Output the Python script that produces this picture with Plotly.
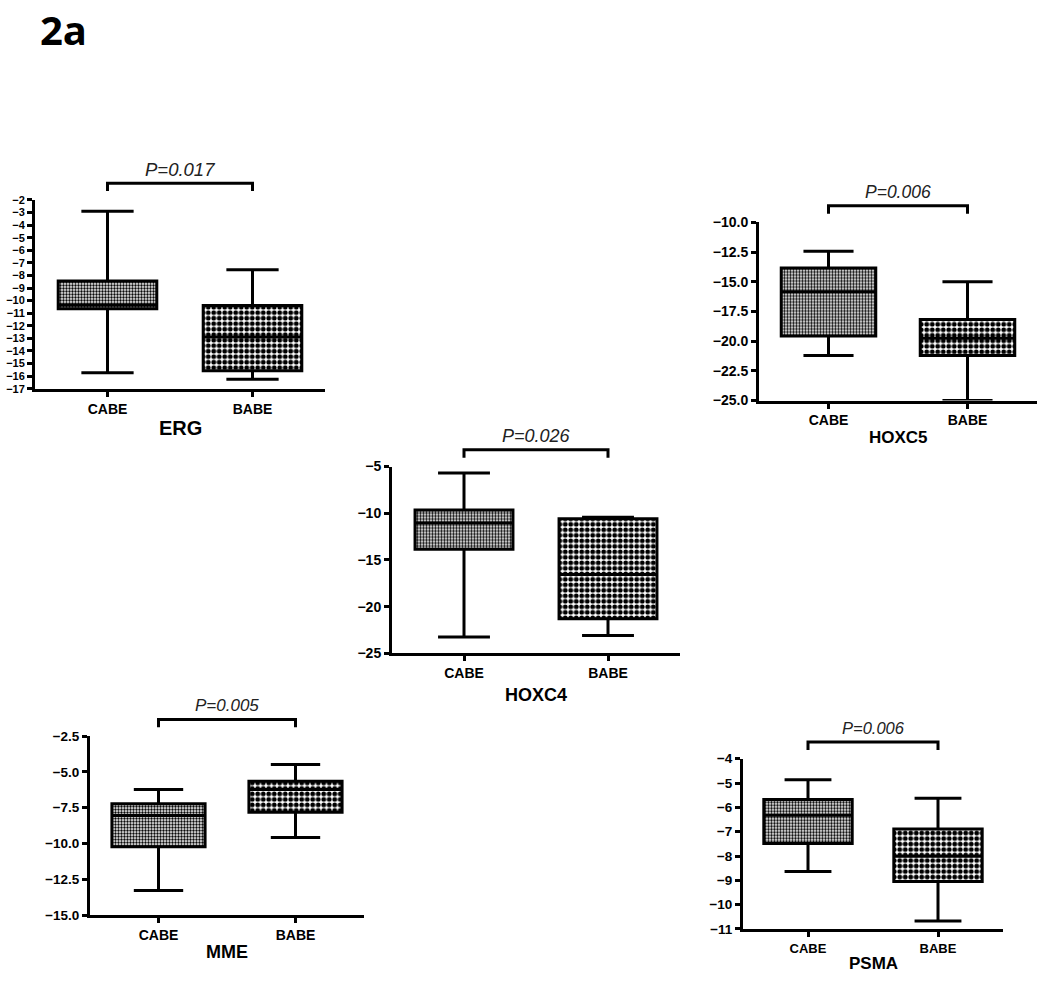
import plotly.graph_objects as go

W, H = 1050, 996
CATS = ["CABE", "BABE"]

# ---- data: lower whisker, Q1, median, Q3, upper whisker ----
erg_lower = [-15.72, -16.25]
erg_q1 = [-10.65, -15.57]
erg_median = [-10.35, -12.88]
erg_q3 = [-8.45, -10.38]
erg_upper = [-2.9, -7.55]

hoxc5_lower = [-21.2, -25.0]
hoxc5_q1 = [-19.55, -21.2]
hoxc5_median = [-15.83, -19.74]
hoxc5_q3 = [-13.84, -18.17]
hoxc5_upper = [-12.43, -15.0]

hoxc4_lower = [-23.25, -23.07]
hoxc4_q1 = [-13.85, -21.3]
hoxc4_median = [-11.05, -16.55]
hoxc4_q3 = [-9.65, -10.6]
hoxc4_upper = [-5.7, -10.42]

mme_lower = [-13.28, -9.58]
mme_q1 = [-10.22, -7.82]
mme_median = [-8.05, -6.22]
mme_q3 = [-7.23, -5.65]
mme_upper = [-6.22, -4.49]

psma_lower = [-8.64, -10.67]
psma_q1 = [-7.49, -9.05]
psma_median = [-6.32, -8.01]
psma_q3 = [-5.68, -6.89]
psma_upper = [-4.86, -5.62]

gene_names = ["ERG", "HOXC5", "HOXC4", "MME", "PSMA"]
p_labels = ["P=0.017", "P=0.006", "P=0.026", "P=0.005", "P=0.006"]

stats = [
    (erg_lower, erg_q1, erg_median, erg_q3, erg_upper),
    (hoxc5_lower, hoxc5_q1, hoxc5_median, hoxc5_q3, hoxc5_upper),
    (hoxc4_lower, hoxc4_q1, hoxc4_median, hoxc4_q3, hoxc4_upper),
    (mme_lower, mme_q1, mme_median, mme_q3, mme_upper),
    (psma_lower, psma_q1, psma_median, psma_q3, psma_upper),
]

# ---- layout of panels (pixel boxes of the plot areas) ----
# (x_left, x_right, y_top, y_bottom, yrange, dtick, tickformat,
#  ytick size, xtick size, title size, p size, title offset)
panels = [
    (35, 325, 195, 387, [-17, -2], 1, "d", 11, 14, 20, 18.5, 40),
    (759, 1037, 218, 399, [-25, -10], 2.5, ".1f", 14, 14, 17, 17.5, 38),
    (392, 680, 466, 656, [-25, -5], 5, "d", 14, 14, 18, 18, 42),
    (90, 364, 740, 922, [-15, -2.5], 2.5, ".1f", 13.5, 14, 18, 17, 37),
    (743, 1003, 763, 936, [-11, -4], 1, "d", 13.5, 13, 17, 16.5, 35),
]

FONT = "Liberation Sans, Arial, sans-serif"
BOX_W = 0.68

fig = go.Figure()
shapes = []
annotations = []


def py(px):
    return 1 - px / H


for i, (gname, (lo, q1, med, q3, up), pl, pan) in enumerate(zip(gene_names, stats, p_labels, panels)):
    n = "" if i == 0 else str(i + 1)
    xa, ya = "x" + n, "y" + n
    xl, xr, yt, yb, yr, dt, tf, ytfs, xtfs, tsz, psz, toff = pan

    # patterned fill of the boxes
    fig.add_trace(go.Bar(
        x=CATS, y=[b - a for a, b in zip(q1, q3)], base=q1, width=BOX_W,
        marker=dict(color="white", line=dict(width=0),
                    pattern=dict(shape=".", fgcolor="black", bgcolor="white",
                                 size=[3, 5.5], solidity=[0.5, 0.6], fillmode="replace")),
        xaxis=xa, yaxis=ya, showlegend=False, hoverinfo="skip",
    ))
    # box outline, median, whiskers
    fig.add_trace(go.Box(
        x=CATS, lowerfence=lo, q1=q1, median=med, q3=q3, upperfence=up,
        width=BOX_W, whiskerwidth=0.53, boxpoints=False,
        fillcolor="rgba(0,0,0,0)", line=dict(color="black", width=3),
        xaxis=xa, yaxis=ya, showlegend=False,
    ))

    axx = dict(domain=[xl / W, xr / W], anchor=ya, type="category",
               categoryorder="array", categoryarray=CATS, range=[-0.5, 1.5],
               showline=True, linecolor="black", linewidth=3, showgrid=False,
               zeroline=False, ticks="outside", ticklen=5, tickwidth=2.5,
               tickcolor="black",
               tickfont=dict(family=FONT, size=xtfs, color="black", weight="bold"))
    axy = dict(domain=[py(yb), py(yt)], anchor=xa, range=yr, tick0=yr[0], dtick=dt,
               tickformat=tf, showline=True, linecolor="black", linewidth=3,
               showgrid=False, zeroline=False, ticks="outside", ticklen=5,
               tickwidth=2.5, tickcolor="black",
               tickfont=dict(family=FONT, size=ytfs, color="black", weight="bold"))
    fig.update_layout(**{"xaxis" + n: axx, "yaxis" + n: axy})

    # significance bracket
    yb_line = py(yt - 17)
    yb_tick = py(yt - 9)
    shapes.append(dict(type="path", xref=xa, yref="paper",
                       path=f"M 0,{yb_tick} L 0,{yb_line} L 1,{yb_line} L 1,{yb_tick}",
                       line=dict(color="black", width=3)))
    annotations.append(dict(xref=xa, yref="paper", x=0.5, y=py(yt - 31), text=pl,
                            showarrow=False, xanchor="center", yanchor="middle",
                            font=dict(family=FONT, size=psz, color="#222", style="italic")))
    # gene label
    annotations.append(dict(xref=xa, yref="paper", x=0.5, y=py(yb + toff), text=gname,
                            showarrow=False, xanchor="center", yanchor="middle",
                            font=dict(family=FONT, size=tsz, color="black", weight="bold")))

annotations.append(dict(xref="paper", yref="paper", x=63 / W, y=py(22), text="2a",
                        showarrow=False, xanchor="center", yanchor="middle",
                        font=dict(family="Open Sans, " + FONT, size=40, color="black",
                                  weight="bold")))

fig.update_layout(
    width=W, height=H, margin=dict(l=0, r=0, t=0, b=0),
    paper_bgcolor="white", plot_bgcolor="white",
    shapes=shapes, annotations=annotations, showlegend=False,
    bargap=0,
)

fig.write_html("out.html", config={"displayModeBar": False},
               post_script="document.body.style.margin='0';document.body.style.overflow='hidden';")
